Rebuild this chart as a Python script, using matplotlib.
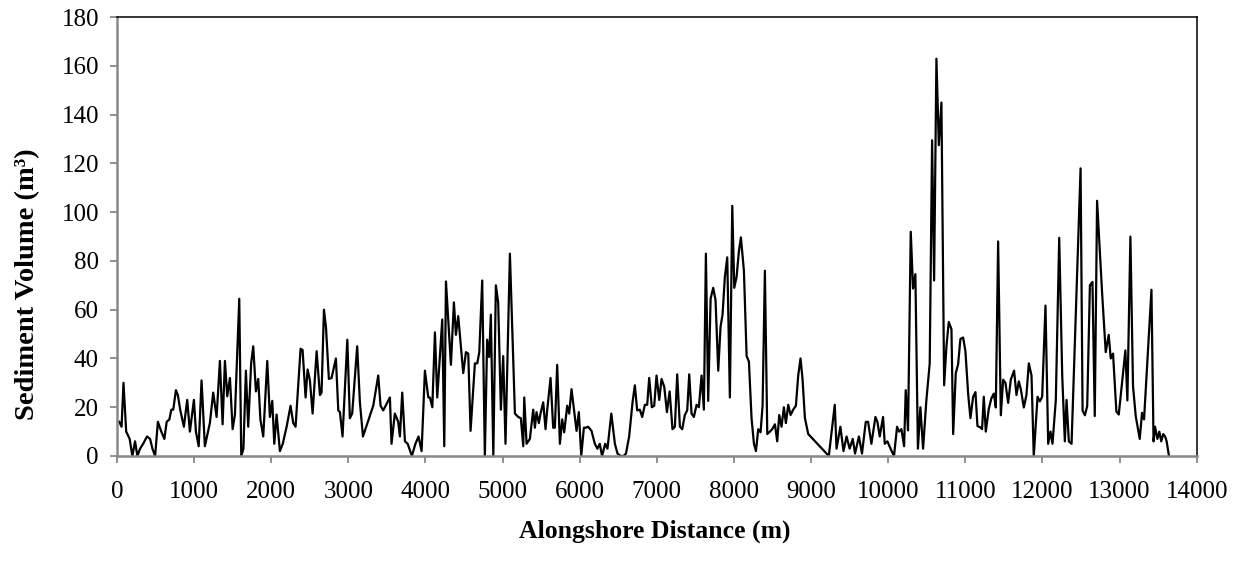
import matplotlib
matplotlib.use("Agg")
import matplotlib.pyplot as plt

plt.rcParams['font.family'] = ['Liberation Serif', 'DejaVu Serif']

# alongshore distance (m)
distance = [30, 60, 85, 120, 165, 200, 235, 265, 300, 340, 390, 430, 460, 495,
            531, 575, 615, 645, 680, 705, 730, 765, 790, 820, 868, 911, 946, 998,
            1024, 1060, 1097, 1140, 1205, 1248, 1292, 1335, 1370, 1400, 1430, 1465,
            1500, 1530, 1586, 1612, 1640, 1672, 1702, 1740, 1767, 1802, 1832, 1860,
            1897, 1949, 1983, 2014, 2040, 2070, 2113, 2150, 2200, 2251, 2286, 2316,
            2381, 2407, 2446, 2472, 2502, 2537, 2589, 2632, 2653, 2684, 2710, 2748,
            2783, 2839, 2870, 2891, 2925, 2987, 3020, 3050, 3115, 3150, 3190, 3323,
            3388, 3418, 3453, 3539, 3560, 3603, 3647, 3669, 3699, 3734, 3770, 3824,
            3870, 3910, 3950, 3993, 4037, 4058, 4089, 4123, 4153, 4218, 4244, 4266,
            4330, 4369, 4395, 4425, 4490, 4525, 4555, 4585, 4641, 4672, 4698, 4736,
            4770, 4800, 4826, 4848, 4880, 4913, 4943, 4978, 5008, 5038, 5095, 5160,
            5203, 5237, 5268, 5281, 5311, 5354, 5397, 5419, 5440, 5470, 5492, 5527,
            5557, 5578, 5622, 5656, 5678, 5708, 5743, 5773, 5799, 5838, 5864, 5894,
            5930, 5959, 5989, 6020, 6054, 6080, 6110, 6153, 6196, 6230, 6260, 6290,
            6330, 6360, 6410, 6456, 6490, 6530, 6570, 6600, 6641, 6685, 6715, 6745,
            6780, 6810, 6845, 6875, 6901, 6935, 6966, 6996, 7031, 7061, 7096, 7131,
            7166, 7203, 7234, 7264, 7299, 7329, 7363, 7394, 7420, 7450, 7480, 7515,
            7545, 7580, 7610, 7636, 7666, 7697, 7731, 7761, 7796, 7826, 7852, 7882,
            7913, 7947, 7978, 8004, 8034, 8064, 8090, 8129, 8164, 8194, 8228, 8259,
            8285, 8315, 8345, 8371, 8401, 8432, 8466, 8496, 8531, 8561, 8587, 8617,
            8647, 8673, 8704, 8734, 8768, 8803, 8833, 8863, 8889, 8920, 8963, 9230,
            9307, 9330, 9380, 9420, 9460, 9500, 9540, 9570, 9620, 9660, 9709, 9739,
            9782, 9834, 9860, 9890, 9933, 9955, 9990, 10030, 10075, 10115, 10141,
            10171, 10206, 10227, 10257, 10292, 10322, 10352, 10385, 10417, 10452,
            10495, 10538, 10569, 10595, 10625, 10656, 10690, 10725, 10755, 10785,
            10820, 10842, 10876, 10906, 10936, 10971, 11001, 11036, 11066, 11101,
            11131, 11157, 11196, 11217, 11239, 11265, 11304, 11338, 11369, 11395,
            11425, 11460, 11490, 11520, 11555, 11589, 11632, 11663, 11693, 11719,
            11758, 11792, 11823, 11858, 11887, 11936, 11966, 11996, 12039, 12074,
            12104, 12130, 12173, 12217, 12256, 12290, 12312, 12342, 12377, 12494,
            12520, 12550, 12580, 12615, 12648, 12678, 12708, 12773, 12820, 12859,
            12885, 12915, 12958, 12989, 13075, 13101, 13140, 13174, 13209, 13261,
            13291, 13317, 13413, 13440, 13460, 13490, 13515, 13540, 13565, 13590,
            13610, 13640]

# sediment volume (m3)
volume = [14, 12, 30, 10, 7, 0, 6, 0, 3, 5, 8, 7, 3, 0,
          14, 10, 7, 14, 15, 19, 19, 27, 25, 19, 12, 23, 10, 23,
          10, 4, 31, 4, 13.5, 26, 16, 39, 13, 39, 24.5, 32,
          11, 17, 64.5, 0, 3, 35, 12, 38, 45, 26.5, 31.6, 15,
          8, 39, 16, 22.6, 5, 17, 2, 5, 12, 20.6, 13.5, 12,
          44, 43.5, 24, 35.5, 31, 17.4, 43, 25, 26, 60, 53, 31.6,
          32, 40, 18.7, 18, 8, 47.7, 15.5, 17.4, 45, 22, 8, 20.6,
          33, 20.6, 18.7, 24, 5, 17.4, 14, 8, 26, 6, 5, 0,
          5, 8, 2, 35, 24, 24, 20, 50.7, 24, 56, 4, 71.6,
          37.4, 63, 49.7, 57.4, 34, 42.6, 42, 10.3, 38, 38, 42.6, 72,
          0, 47.7, 40.6, 58, 0, 70, 63, 19, 41, 5, 83, 17.4,
          16, 15.5, 4, 24, 5, 7, 19, 11.6, 18, 13.5, 17.4, 22,
          11, 18.7, 32, 11.6, 11.6, 37.4, 5, 15, 9.7, 20.6, 17.4, 27.4,
          18, 10.3, 18, 0, 11.6, 11.6, 12, 10.3, 5, 3, 5, 0,
          5, 3, 17.4, 5, 1, 0, 0, 1, 8, 22, 29, 18.7,
          19, 16, 21, 21, 32, 20, 20.6, 33, 23, 31.6, 28.4, 18,
          26.5, 11, 12, 33.5, 12, 11, 16.8, 18.7, 33.5, 17.4, 16, 21,
          20, 33, 19, 83, 22.6, 64.5, 69, 64, 35, 53, 58, 73.5,
          81.5, 24, 102.6, 69, 73.5, 84, 89.7, 76, 41, 38.7, 15.5, 5,
          2, 11, 9.7, 20.6, 76, 9, 10, 11, 13, 6, 16.8, 12,
          20, 13.5, 21, 16.8, 19, 20.6, 33, 40, 31.6, 15.5, 9, 0,
          21, 3, 12, 2, 8, 3, 7, 1, 8, 1, 14, 14,
          5, 16, 14, 8, 16, 5, 6, 3, 0, 12, 10,
          11, 4, 27, 10.5, 92, 68.7, 74.6, 3, 20, 3,
          23, 38, 129.5, 72, 163, 127.5, 145, 29, 45, 55,
          52, 9, 34, 37.6, 48, 48.6, 43, 25.6, 15.5, 24.3,
          26.2, 12.3, 11.7, 11, 24.3, 10, 19.3, 23.7, 25.6, 19.9,
          88, 16.7, 31.3, 30, 21.8, 31.3, 35, 25, 30.6, 27.5,
          19.9, 25, 38, 33, 0, 24.3, 22.4, 24.3, 61.7, 5,
          10, 5, 23, 89.5, 33, 6, 23, 6, 5, 118,
          18.6, 16.7, 20.5, 70, 71.4, 16.4, 104.7, 67, 42.6, 49.7,
          40, 42, 18.3, 17, 43.3, 22.8, 90, 28.6, 16.4, 7,
          17.7, 15, 68.2, 6, 12, 7, 10, 6, 9, 8,
          6, 0]

x_ticks = list(range(0, 14001, 1000))
y_ticks = list(range(0, 181, 20))

fig = plt.figure(figsize=(12.44, 5.75), dpi=100)
ax = fig.add_axes([0.094, 0.207, 0.868, 0.763])

ax.plot(distance, volume, color='black', linewidth=1.6)

ax.set_xlim(0, 14000)
ax.set_ylim(0, 180)
ax.set_xticks(x_ticks)
ax.set_yticks(y_ticks)
ax.tick_params(axis='both', labelsize=18, direction='out', color='#888888',
               width=1.3, length=5)
ax.tick_params(axis='x', pad=13)
ax.tick_params(axis='y', pad=8)

for side in ['left', 'bottom']:
    ax.spines[side].set_color('#888888')
    ax.spines[side].set_linewidth(1.8)
for side in ['top', 'right']:
    ax.spines[side].set_color('black')
    ax.spines[side].set_linewidth(1.1)

# axis titles placed in figure pixels to follow the reference layout
fig.text(655 / 1244, 1 - 531 / 575, 'Alongshore Distance (m)', fontsize=18.5,
         fontweight='bold', ha='center', va='center')
fig.text(28 / 1244, 1 - 284 / 575, 'Sediment Volume (m³)', fontsize=20.5,
         fontweight='bold', ha='center', va='center', rotation=90)

fig.savefig('out.png', dpi=100)
